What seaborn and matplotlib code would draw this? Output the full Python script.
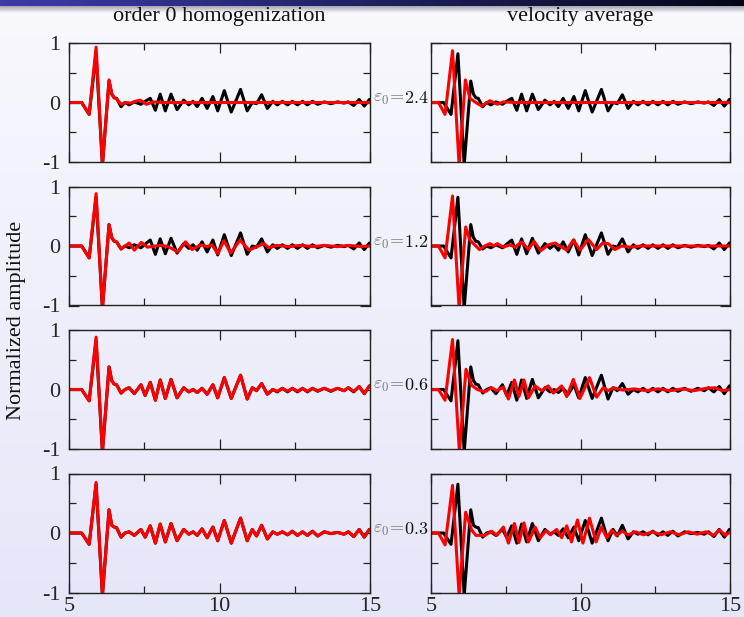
import numpy as np
import matplotlib
matplotlib.use('Agg')
import matplotlib.pyplot as plt
from matplotlib import transforms
import seaborn as sns

# ---- data (time [s], normalized amplitude) ----
# shared knot times for the reference (black) traces and the order-0 traces of rows 3-4
t_ref = [5.0, 5.42, 5.67, 5.9, 6.11, 6.33, 6.42, 6.5, 6.58, 6.73, 6.86, 7.0, 7.17, 7.39,
         7.53, 7.7, 7.87, 8.03, 8.2, 8.39, 8.59, 8.81, 8.98, 9.12, 9.26, 9.42, 9.59, 9.78,
         9.94, 10.16, 10.39, 10.7, 10.92, 11.09, 11.23, 11.4, 11.59, 11.77, 11.92, 12.09,
         12.26, 12.42, 12.59, 12.76, 12.92, 13.09, 13.26, 13.48, 13.7, 13.92, 14.14, 14.28,
         14.46, 14.64, 14.81, 14.98, 15.0]

blk_1 = [0, 0, -0.2, 0.82, -1.05, 0.36, 0.14, 0.08, 0.07, -0.07, 0.0, -0.04, 0.01, -0.03,
         0.02, 0.07, -0.13, 0.14, -0.14, 0.14, -0.12, 0.04, -0.04, 0.02, -0.07, 0.07, -0.1,
         0.1, -0.14, 0.2, -0.16, 0.22, -0.14, 0.0, -0.02, 0.13, -0.1, 0.02, -0.04, 0.02,
         -0.04, 0.02, -0.04, 0.02, -0.04, 0.02, -0.03, 0.01, -0.02, 0.01, -0.01, 0.01,
         -0.05, 0.05, -0.06, 0.05, 0.05]
blk_2 = [0, 0, -0.2, 0.82, -1.05, 0.36, 0.14, 0.08, 0.07, -0.05, 0.0, -0.03, 0.02, -0.03,
         0.03, 0.1, -0.14, 0.12, -0.13, 0.13, -0.12, 0.04, -0.04, 0.02, -0.07, 0.07, -0.1,
         0.1, -0.15, 0.19, -0.16, 0.22, -0.14, 0.0, -0.02, 0.12, -0.1, 0.02, -0.04, 0.02,
         -0.04, 0.02, -0.04, 0.02, -0.04, 0.02, -0.03, 0.01, -0.02, 0.01, -0.01, 0.01,
         -0.05, 0.05, -0.06, 0.05, 0.05]
blk_3 = [0, 0, -0.19, 0.82, -1.05, 0.38, 0.15, 0.09, 0.08, -0.06, 0.0, 0.03, -0.07, 0.08,
         -0.1, 0.12, -0.18, 0.16, -0.15, 0.17, -0.14, 0.03, -0.04, 0.0, -0.05, 0.02, -0.08,
         0.08, -0.14, 0.2, -0.15, 0.24, -0.16, 0.03, -0.02, 0.1, -0.08, 0.0, -0.04, 0.02,
         -0.04, 0.02, -0.04, 0.02, -0.04, 0.02, -0.03, 0.02, -0.03, 0.02, -0.02, 0.03,
         -0.04, 0.05, -0.07, 0.06, 0.06]
blk_4 = [0, 0, -0.19, 0.82, -1.05, 0.39, 0.13, 0.1, 0.09, -0.07, 0.0, 0.02, -0.04, 0.06,
         -0.07, 0.12, -0.17, 0.15, -0.15, 0.16, -0.13, 0.06, -0.02, 0.02, -0.04, 0.07, -0.08,
         0.1, -0.13, 0.21, -0.17, 0.25, -0.13, 0.06, -0.05, 0.13, -0.1, 0.02, -0.02, 0.02,
         -0.03, 0.03, -0.04, 0.02, -0.04, 0.03, -0.05, 0.02, -0.01, 0.01, -0.02, 0.02,
         -0.06, 0.06, -0.07, 0.06, 0.06]

# order 0 homogenization (left column, red)
t_hom_1 = [5.0, 5.42, 5.67, 5.9, 6.11, 6.33, 6.42, 6.5, 6.58, 6.73, 6.9, 7.05, 7.2, 7.37,
           7.57, 7.8, 8.1, 15.0]
a_hom_1 = [0, 0, -0.2, 0.93, -1.05, 0.38, 0.15, 0.08, 0.06, -0.03, 0.0, -0.01, 0.02, 0.04,
           -0.03, 0.01, 0.0, 0.0]
t_hom_2 = [5.0, 5.42, 5.67, 5.9, 6.11, 6.33, 6.42, 6.5, 6.58, 6.73, 7.0, 7.17, 7.4, 7.61,
           7.87, 8.05, 8.3, 8.61, 8.87, 9.09, 9.37, 9.59, 9.75, 9.94, 10.15, 10.37, 10.68,
           10.98, 11.25, 11.48, 11.64, 11.9, 12.3, 12.7, 13.1, 13.5, 13.9, 14.3, 14.7, 15.0]
a_hom_2 = [0, 0, -0.2, 0.88, -1.05, 0.36, 0.14, 0.09, 0.07, -0.05, 0.05, -0.07, 0.06, -0.02,
           0.0, 0.01, -0.01, -0.1, 0.07, -0.06, 0.02, -0.01, 0.02, -0.13, 0.09, -0.12, 0.1,
           -0.07, -0.01, 0.04, -0.03, 0.01, -0.01, 0.01, -0.01, 0.01, -0.01, 0.01, -0.01, 0.0]
a_hom_3 = [0, 0, -0.19, 0.88, -1.05, 0.38, 0.15, 0.09, 0.08, -0.06, 0.0, 0.03, -0.07, 0.08,
           -0.1, 0.12, -0.18, 0.16, -0.15, 0.17, -0.14, 0.03, -0.04, 0.0, -0.05, 0.02, -0.08,
           0.08, -0.14, 0.2, -0.15, 0.24, -0.16, 0.03, -0.02, 0.1, -0.08, 0.0, -0.03, 0.02,
           -0.03, 0.02, -0.03, 0.02, -0.03, 0.02, -0.02, 0.02, -0.02, 0.02, -0.02, 0.03,
           -0.03, 0.05, -0.07, 0.06, 0.06]
a_hom_4 = [0, 0, -0.19, 0.85, -1.05, 0.39, 0.13, 0.1, 0.09, -0.07, 0.0, 0.02, -0.04, 0.06,
           -0.07, 0.12, -0.17, 0.15, -0.15, 0.16, -0.13, 0.06, -0.02, 0.02, -0.04, 0.07, -0.08,
           0.1, -0.13, 0.21, -0.17, 0.25, -0.13, 0.06, -0.05, 0.13, -0.1, 0.02, -0.02, 0.02,
           -0.03, 0.03, -0.04, 0.02, -0.04, 0.03, -0.05, 0.02, -0.01, 0.01, -0.02, 0.02,
           -0.06, 0.06, -0.07, 0.06, 0.06]

# velocity average (right column, red)
t_vel_1 = [5.0, 5.25, 5.47, 5.72, 5.94, 6.15, 6.3, 6.53, 6.7, 6.97, 7.22, 7.42, 7.8, 15.0]
a_vel_1 = [0, 0, -0.2, 0.87, -1.05, 0.38, 0.07, -0.01, -0.06, 0.03, -0.03, 0.01, 0.0, 0.0]
t_vel_2 = [5.0, 5.25, 5.47, 5.72, 5.94, 6.16, 6.3, 6.42, 6.62, 6.8, 6.97, 7.1, 7.22, 7.42,
           7.64, 7.81, 8.03, 8.26, 8.44, 8.67, 8.92, 9.15, 9.31, 9.54, 9.76, 9.98, 10.26,
           10.54, 10.74, 10.93, 11.15, 11.38, 11.66, 12.0, 15.0]
a_vel_2 = [0, 0, -0.2, 0.84, -1.05, 0.32, 0.1, 0.04, -0.06, 0.0, 0.04, 0.0, 0.04, -0.02,
           0.02, -0.02, 0.07, -0.06, 0.08, -0.08, 0.02, 0.05, 0.0, -0.07, 0.1, -0.07, 0.11,
           -0.06, 0.05, 0.04, -0.06, 0.0, -0.02, 0.0, 0.0]
t_vel_3 = [5.0, 5.25, 5.47, 5.72, 5.95, 6.17, 6.36, 6.55, 6.8, 7.03, 7.2, 7.42, 7.59, 7.79,
           7.94, 8.11, 8.26, 8.48, 8.7, 8.92, 9.09, 9.37, 9.54, 9.76, 9.98, 10.3, 10.54,
           10.76, 10.93, 11.1, 11.4, 11.8, 12.2, 12.6, 13.0, 13.4, 13.8, 14.2, 14.5, 14.75, 15.0]
a_vel_3 = [0, 0, -0.18, 0.84, -1.05, 0.34, 0.07, 0.0, -0.04, 0.03, -0.02, 0.04, -0.16, 0.16,
           -0.12, 0.16, -0.14, 0.06, -0.02, 0.06, -0.06, 0.06, -0.12, 0.17, -0.15, 0.2, -0.13,
           0.03, -0.02, 0.03, -0.01, 0.01, -0.02, 0.01, -0.02, 0.01, -0.02, 0.02, 0.03, -0.02, 0.0]
t_vel_4 = [5.0, 5.25, 5.47, 5.72, 5.94, 6.16, 6.36, 6.5, 6.8, 7.03, 7.2, 7.42, 7.59, 7.79,
           7.94, 8.11, 8.26, 8.48, 8.65, 8.85, 9.0, 9.2, 9.37, 9.54, 9.7, 9.9, 10.08, 10.3,
           10.52, 10.7, 10.88, 11.05, 11.2, 11.4, 11.6, 11.85, 12.1, 12.4, 12.7, 13.0, 13.3,
           13.6, 13.9, 14.2, 14.45, 14.65, 14.85, 15.0]
a_vel_4 = [0, 0, -0.2, 0.8, -1.05, 0.35, 0.05, -0.04, -0.04, 0.03, -0.04, 0.1, -0.17, 0.16,
           -0.16, 0.17, -0.15, 0.1, -0.08, 0.04, -0.03, 0.06, -0.08, 0.12, -0.15, 0.22, -0.17,
           0.25, -0.15, 0.1, -0.08, 0.05, -0.04, 0.03, -0.03, 0.02, -0.03, 0.02, -0.03, 0.02,
           -0.03, 0.02, -0.02, 0.02, -0.04, 0.05, -0.04, 0.02]

eps_labels = ['2.4', '1.2', '0.6', '0.3']
col_titles = ['order 0 homogenization', 'velocity average']

ref = [blk_1, blk_2, blk_3, blk_4]
hom = [(t_hom_1, a_hom_1), (t_hom_2, a_hom_2), (t_ref, a_hom_3), (t_ref, a_hom_4)]
vel = [(t_vel_1, a_vel_1), (t_vel_2, a_vel_2), (t_vel_3, a_vel_3), (t_vel_4, a_vel_4)]

# ---- style ----
sns.set_style('ticks')
plt.rcParams['font.family'] = ['Liberation Serif', 'DejaVu Serif']
plt.rcParams['mathtext.fontset'] = 'cm'

W, H = 744, 617
fig = plt.figure(figsize=(W / 100, H / 100), dpi=100)

# slide background (lavender gradient) and top bar
bg = fig.add_axes([0, 0, 1, 1], zorder=-10)
g = np.linspace(0, 1, 256)[:, None, None]
c_top = np.array([248, 248, 253]) / 255
c_bot = np.array([230, 230, 249]) / 255
bg.imshow(c_top + (c_bot - c_top) * g, aspect='auto', extent=[0, 1, 0, 1])
bg.axis('off')

bar = fig.add_axes([0, 1 - 6 / H, 1, 6 / H], zorder=-5)
h = np.linspace(0, 1, 256)[None, :, None]
b_l = np.array([60, 60, 170]) / 255
b_r = np.array([5, 5, 25]) / 255
bar.imshow(b_l + (b_r - b_l) * h, aspect='auto', extent=[0, 1, 0, 1])
bar.axis('off')

sh = fig.add_axes([0, 1 - 13 / H, 1, 7 / H], zorder=-5)
s = np.linspace(0, 1, 32)[:, None, None]
s_top = np.array([165, 165, 175]) / 255
sh.imshow(s_top + (c_top - s_top) * s, aspect='auto', extent=[0, 1, 0, 1])
sh.axis('off')

lefts = [69, 431]
widths = [301, 299]
tops = [43, 186.5, 330, 473.5]
ph = 119

for r in range(4):
    row_axes = []
    for c in range(2):
        ax = fig.add_axes([lefts[c] / W, 1 - (tops[r] + ph) / H, widths[c] / W, ph / H])
        ax.set_facecolor('none')
        sns.lineplot(x=t_ref, y=ref[r], color='black', lw=2.2, estimator=None,
                     sort=False, ax=ax)
        tt, aa = hom[r] if c == 0 else vel[r]
        sns.lineplot(x=tt, y=aa, color='#ff0000', lw=2.2, estimator=None,
                     sort=False, ax=ax)
        ax.set_xlim(5, 15)
        ax.set_ylim(-1, 1)
        ax.set_xticks([5, 10, 15])
        ax.set_xticks([7.5, 12.5], minor=True)
        ax.set_yticks([-1, 0, 1])
        ax.set_yticks([-0.5, 0.5], minor=True)
        ax.set_xticklabels(['5', '10', '15'] if r == 3 else [])
        ax.set_yticklabels(['-1', '0', '1'] if c == 0 else [])
        ax.tick_params(which='both', direction='in', top=True, right=True,
                       color='#222222', width=0.9, labelsize=16, pad=6)
        ax.tick_params(which='major', length=7.5)
        ax.tick_params(which='minor', length=5)
        ax.tick_params(axis='x', pad=3)
        for sp in ax.spines.values():
            sp.set_color('#222222')
            sp.set_linewidth(1.0)
        ax.set_xlabel('')
        ax.set_ylabel('')
        row_axes.append(ax)

    tr = transforms.blended_transform_factory(fig.transFigure, row_axes[0].transData)
    fig.text(404 / W, 0.06, r'$\varepsilon_0\!=$', transform=tr, ha='right', va='center',
             fontsize=13, color='#7a7a7a')
    fig.text(404 / W, 0.06, r'$%s$' % eps_labels[r], transform=tr, ha='left', va='center',
             fontsize=13, color='#111111')

fig.text(219.5 / W, 1 - 16 / H, col_titles[0], ha='center', va='center', fontsize=16,
         color='#111111')
fig.text(580.5 / W, 1 - 16 / H, col_titles[1], ha='center', va='center', fontsize=16,
         color='#111111')
fig.text(17 / W, 1 - 320 / H, 'Normalized amplitude', rotation=90, ha='center',
         va='center', fontsize=16, color='#111111')

fig.savefig('out.png', dpi=100)
